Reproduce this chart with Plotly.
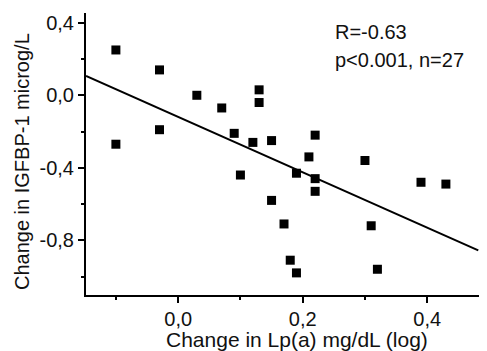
import plotly.graph_objects as go

# Data
lp_a_change = [-0.10, -0.10, -0.03, -0.03, 0.03, 0.07, 0.09, 0.12, 0.13, 0.13,
               0.10, 0.15, 0.15, 0.17, 0.18, 0.19, 0.19, 0.21, 0.22, 0.22,
               0.22, 0.30, 0.31, 0.32, 0.39, 0.43]
igfbp1_change = [0.25, -0.27, 0.14, -0.19, 0.00, -0.07, -0.21, -0.26, 0.03, -0.04,
                 -0.44, -0.25, -0.58, -0.71, -0.91, -0.98, -0.43, -0.34, -0.22, -0.46,
                 -0.53, -0.36, -0.72, -0.96, -0.48, -0.49]

fit_x = [-0.148, 0.482]
fit_y = [0.107, -0.856]

x_tickvals = [0.0, 0.2, 0.4]
x_ticktext = ["0,0", "0,2", "0,4"]
y_tickvals = [0.4, 0.0, -0.4, -0.8]
y_ticktext = ["0,4", "0,0", "-0,4", "-0,8"]

stats_text = ["R=-0.63", "p<0.001, n=27"]
x_title = "Change in Lp(a) mg/dL (log)"
y_title = "Change in IGFBP-1 microg/L"

FONT = "Liberation Sans, Arial, Helvetica, sans-serif"
OFF = 8  # page body margin in the browser
W, H = 487 - OFF, 351 - OFF
L, R, T, B = 86 - OFF, 0, 13 - OFF, 56
plot_w = W - L - R
plot_h = H - T - B


def px_to_paper(px, py):
    return (px - OFF - L) / plot_w, 1 - (py - OFF - T) / plot_h


fig = go.Figure()
fig.add_trace(go.Scatter(x=fit_x, y=fit_y, mode="lines",
                         line=dict(color="black", width=2), hoverinfo="skip",
                         showlegend=False, cliponaxis=False))
fig.add_trace(go.Scatter(x=lp_a_change, y=igfbp1_change, mode="markers",
                         marker=dict(symbol="square", size=9, color="black",
                                     line=dict(width=0)),
                         showlegend=False))

for i, t in enumerate(stats_text):
    ax, ay = px_to_paper(333, 32 + 28 * i)
    fig.add_annotation(x=ax, y=ay, xref="paper", yref="paper", text=t,
                       showarrow=False, xanchor="left", yanchor="middle",
                       font=dict(family=FONT, size=20, color="#111"))

ax, ay = px_to_paper(297, 339)
fig.add_annotation(x=ax, y=ay, xref="paper", yref="paper", text=x_title,
                   showarrow=False, xanchor="center", yanchor="middle",
                   font=dict(family=FONT, size=21, color="#111"))
ax, ay = px_to_paper(22, 162)
fig.add_annotation(x=ax, y=ay, xref="paper", yref="paper", text=y_title,
                   showarrow=False, xanchor="center", yanchor="middle",
                   textangle=-90,
                   font=dict(family=FONT, size=20, color="#111"))

fig.update_layout(
    width=W, height=H,
    margin=dict(l=L, r=R, t=T, b=B, autoexpand=False),
    paper_bgcolor="white", plot_bgcolor="white",
    font=dict(family=FONT, size=20, color="#111"),
    xaxis=dict(range=[-0.148, 0.496], showgrid=False, zeroline=False,
               automargin=False,
               showline=True, linecolor="black", linewidth=2,
               ticks="outside", ticklen=6, tickwidth=1.5, tickcolor="black",
               tickvals=x_tickvals, ticktext=x_ticktext,
               ticklabelstandoff=-1,
               minor=dict(tickvals=[-0.1, 0.1, 0.3], ticks="outside", ticklen=3,
                          tickwidth=1.5, tickcolor="black")),
    yaxis=dict(range=[-1.102, 0.454], showgrid=False, zeroline=False,
               automargin=False,
               showline=True, linecolor="black", linewidth=2,
               ticks="outside", ticklen=6, tickwidth=1.5, tickcolor="black",
               tickvals=y_tickvals, ticktext=y_ticktext,
               minor=dict(tickvals=[0.2, -0.2, -0.6, -1.0], ticks="outside",
                          ticklen=3, tickwidth=1.5, tickcolor="black")),
)

fig.write_html("out.html")
